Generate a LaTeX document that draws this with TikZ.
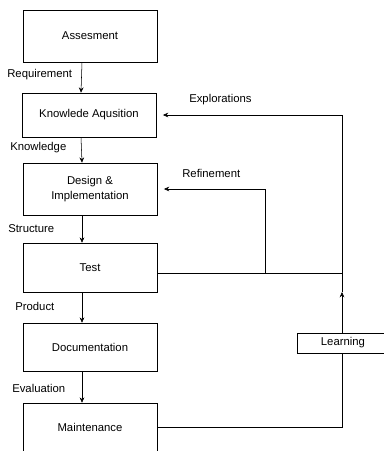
\documentclass[tikz,border=0pt]{standalone}
\usepackage{fontspec}
\setmainfont{Liberation Sans}
\usetikzlibrary{arrows.meta}
\begin{document}
\begin{tikzpicture}[x=0.75pt,y=-0.75pt,
	stage/.style={draw,thin,minimum width=100.5pt,align=center,font=\fontsize{8.5}{11}\selectfont},
	lbl/.style={anchor=west,inner sep=0pt,font=\fontsize{8.5}{10}\selectfont},
	flow/.style={thin,-{Stealth[length=4pt,width=3.5pt]}}]
	\useasboundingbox (0,0) rectangle (384,451);
	\node[stage,minimum height=39pt] (asses) at (90,36) {Assesment};
	\node[stage,minimum height=33pt] (know) at (89,115) {Knowlede Aqusition};
	\node[stage,minimum height=39pt] (design) at (90,189) {Design \&\\ Implementation};
	\node[stage,minimum height=36.75pt] (test) at (90,267.5) {Test};
	\node[stage,minimum height=36pt] (doc) at (90,347) {Documentation};
	\node[stage,minimum height=36.75pt] (maint) at (90,427.5) {Maintenance};
	\node[draw,thin,minimum width=69pt,minimum height=15pt,font=\fontsize{8.5}{10}\selectfont] (learn) at (343,343) {Learning};
	% labels
	\node[lbl] (lreq) at (7,75) {Requirement};
	\node[lbl] (lknow) at (10,148) {Knowledge};
	\node[lbl] (lstruc) at (8,229) {Structure};
	\node[lbl] (lprod) at (15,306) {Product};
	\node[lbl] (leval) at (12,388) {Evaluation};
	\node[lbl] (lexp) at (189,100) {Explorations};
	\node[lbl] (lref) at (182,173) {Refinement};
	% main chain
	\draw[flow] ([xshift=-6pt]asses.south) -- ([xshift=-6pt]know.north);
	\draw[flow] ([xshift=-6pt]know.south) -- ([xshift=-6pt]design.north);
	\draw[flow] ([xshift=-6pt]design.south) -- ([xshift=-6pt]test.north);
	\draw[flow] ([xshift=-6pt]test.south) -- ([xshift=-6pt]doc.north);
	\draw[flow] ([xshift=-6pt]doc.south) -- ([xshift=-6pt]maint.north);
	% feedback
	\coordinate (loop) at (342,0);
	\coordinate (refi) at (265,0);
	\coordinate (mid) at (342,292);
	\draw (maint.east) -- (maint.east -| loop) -- (learn.south -| loop);
	\draw[flow] (learn.north -| loop) -- (mid);
	\draw[flow,shorten >=5pt] (mid) -- (loop |- know.east) -- (know.east);
	\draw ([yshift=-4pt]test.east) -- ([yshift=-4pt]test.east -| loop);
	\draw[flow,shorten >=5pt] ([yshift=-4pt]test.east -| refi) -- (refi |- design.east) -- (design.east);
\end{tikzpicture}
\end{document}
